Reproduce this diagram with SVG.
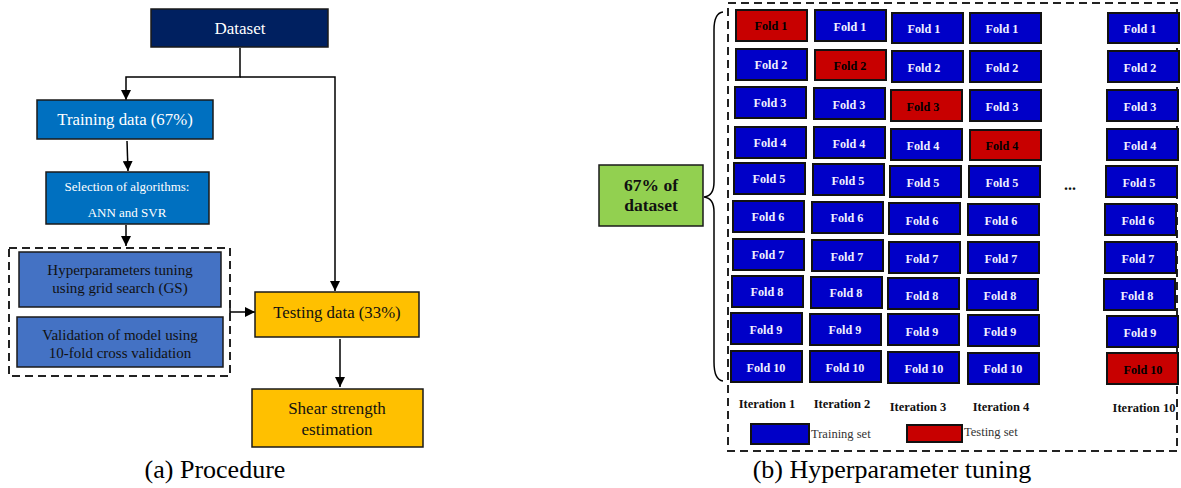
<svg xmlns="http://www.w3.org/2000/svg" width="1181" height="488" viewBox="0 0 1181 488" font-family="'Liberation Serif', 'DejaVu Serif', serif">
<defs>
<marker id="ah" viewBox="0 0 10 10" refX="10" refY="5" markerWidth="10" markerHeight="10" markerUnits="userSpaceOnUse" orient="auto">
<path d="M0,0 L10,5 L0,10 z" fill="#000"/>
</marker>
<style>
text{font-family:'Liberation Serif','DejaVu Serif',serif;}
.box{stroke:#1a1a1a;stroke-width:1.5;}
.wt{fill:#fff;text-anchor:middle;}
.dk{fill:#111;text-anchor:middle;}
.conn{stroke:#000;stroke-width:1.5;fill:none;}
.dash{stroke:#222;stroke-width:2;fill:none;stroke-dasharray:8,5;}
.fb{fill:#0000C8;stroke:#111;stroke-width:2;}
.fr{fill:#C80000;stroke:#111;stroke-width:2;}
.ft{font-size:12.2px;font-weight:bold;fill:#f0f0ff;text-anchor:middle;}
.ftr{font-size:12.2px;font-weight:bold;fill:#000;text-anchor:middle;}
.it{font-size:12.5px;font-weight:bold;fill:#111;text-anchor:middle;}
.cap{font-size:26px;fill:#000;text-anchor:middle;}
</style>
</defs>
<rect width="1181" height="488" fill="#fff"/>

<!-- connectors -->
<g id="connectors">
<polyline class="conn" points="240,48 240,77 126,77 126,100" marker-end="url(#ah)"/>
<polyline class="conn" points="240,77 335,77 335,291" marker-end="url(#ah)"/>
<line class="conn" x1="127" y1="141" x2="128" y2="171" marker-end="url(#ah)"/>
<line class="conn" x1="126" y1="225" x2="126" y2="246" marker-end="url(#ah)"/>
<line class="conn" x1="230" y1="312" x2="255" y2="312" marker-end="url(#ah)"/>
<line class="conn" x1="230" y1="306" x2="230" y2="318"/>
<line class="conn" x1="340" y1="339" x2="340" y2="387" marker-end="url(#ah)"/>
<path class="conn" d="M723,12 Q714,13 714,30 L714,182 Q714,196 704,197 Q714,198 714,212 L714,362 Q714,380 723,381"/>
</g>

<!-- left panel nodes -->
<g id="dataset">
<rect class="box" x="151" y="9" width="177" height="38" fill="#002060"/>
<text class="wt" x="240" y="34" font-size="17">Dataset</text>
</g>
<g id="training">
<rect class="box" x="37" y="100" width="176" height="39" fill="#0070C0"/>
<text class="wt" x="125" y="125" font-size="16.8">Training data (67%)</text>
</g>
<g id="selection">
<rect class="box" x="46" y="172" width="163" height="52" fill="#0070C0"/>
<text class="wt" x="127" y="191" font-size="13">Selection of algorithms:</text>
<text class="wt" x="127" y="217" font-size="13">ANN and SVR</text>
</g>
<g id="tuning-group">
<rect class="dash" x="9" y="248" width="221" height="128"/>
</g>
<g id="hyper">
<rect class="box" x="19" y="252" width="202" height="55" fill="#4472C4"/>
<text class="dk" x="120" y="275" font-size="15" fill="#1a1a3a">Hyperparameters tuning</text>
<text class="dk" x="120" y="293" font-size="15" fill="#1a1a3a">using grid search (GS)</text>
</g>
<g id="validation">
<rect class="box" x="17" y="317" width="206" height="50" fill="#4472C4"/>
<text class="dk" x="120" y="340" font-size="15" fill="#1a1a3a">Validation of model using</text>
<text class="dk" x="120" y="358" font-size="15" fill="#1a1a3a">10-fold cross validation</text>
</g>
<g id="testing">
<rect class="box" x="255" y="292" width="164" height="45" fill="#FFC000"/>
<text class="dk" x="337" y="318" font-size="16.8">Testing data (33%)</text>
</g>
<g id="shear">
<rect class="box" x="252" y="389" width="171" height="58" fill="#FFC000"/>
<text class="dk" x="337" y="414" font-size="17">Shear strength</text>
<text class="dk" x="337" y="435" font-size="17">estimation</text>
</g>
<text class="cap" x="215" y="478">(a) Procedure</text>

<!-- right panel -->
<g id="cv-frame">
<rect class="dash" x="728" y="3" width="449" height="448"/>
</g>
<g id="pct">
<rect class="box" x="599" y="165" width="104" height="61" fill="#92D050"/>
<text x="651" y="191" font-size="17.5" font-weight="bold" fill="#111" text-anchor="middle">67% of</text>
<text x="651" y="211" font-size="17.5" font-weight="bold" fill="#111" text-anchor="middle">dataset</text>
</g>

<g id="iter1">
<rect class="fr" x="736" y="10" width="71" height="31"/><text class="ftr" x="771" y="30">Fold 1</text>
<rect class="fb" x="736" y="49" width="71" height="31"/><text class="ft" x="771" y="69">Fold 2</text>
<rect class="fb" x="735" y="87" width="71" height="31"/><text class="ft" x="770" y="107">Fold 3</text>
<rect class="fb" x="735" y="127" width="71" height="31"/><text class="ft" x="770" y="147">Fold 4</text>
<rect class="fb" x="734" y="163" width="71" height="31"/><text class="ft" x="769" y="183">Fold 5</text>
<rect class="fb" x="733" y="201" width="71" height="31"/><text class="ft" x="768" y="221">Fold 6</text>
<rect class="fb" x="733" y="239" width="71" height="31"/><text class="ft" x="768" y="259">Fold 7</text>
<rect class="fb" x="732" y="276" width="71" height="31"/><text class="ft" x="767" y="296">Fold 8</text>
<rect class="fb" x="731" y="313" width="71" height="31"/><text class="ft" x="766" y="334">Fold 9</text>
<rect class="fb" x="731" y="351" width="71" height="31"/><text class="ft" x="766" y="372">Fold 10</text>
<text class="it" x="767" y="408">Iteration 1</text>
</g>
<g id="iter2">
<rect class="fb" x="815" y="10" width="71" height="31"/><text class="ft" x="850" y="31">Fold 1</text>
<rect class="fr" x="815" y="50" width="71" height="30"/><text class="ftr" x="850" y="70">Fold 2</text>
<rect class="fb" x="814" y="88" width="71" height="31"/><text class="ft" x="849" y="109">Fold 3</text>
<rect class="fb" x="814" y="127" width="71" height="31"/><text class="ft" x="849" y="148">Fold 4</text>
<rect class="fb" x="813" y="164" width="71" height="31"/><text class="ft" x="848" y="185">Fold 5</text>
<rect class="fb" x="812" y="202" width="71" height="31"/><text class="ft" x="847" y="222">Fold 6</text>
<rect class="fb" x="812" y="240" width="71" height="31"/><text class="ft" x="847" y="261">Fold 7</text>
<rect class="fb" x="811" y="277" width="71" height="31"/><text class="ft" x="846" y="297">Fold 8</text>
<rect class="fb" x="810" y="314" width="71" height="31"/><text class="ft" x="845" y="334">Fold 9</text>
<rect class="fb" x="810" y="351" width="71" height="31"/><text class="ft" x="845" y="372">Fold 10</text>
<text class="it" x="842" y="408">Iteration 2</text>
</g>
<g id="iter3">
<rect class="fb" x="892" y="13" width="71" height="30"/><text class="ft" x="924" y="33">Fold 1</text>
<rect class="fb" x="892" y="51" width="71" height="31"/><text class="ft" x="924" y="72">Fold 2</text>
<rect class="fr" x="891" y="90" width="71" height="31"/><text class="ftr" x="923" y="111">Fold 3</text>
<rect class="fb" x="891" y="129" width="71" height="31"/><text class="ft" x="923" y="150">Fold 4</text>
<rect class="fb" x="890" y="166" width="71" height="31"/><text class="ft" x="923" y="187">Fold 5</text>
<rect class="fb" x="889" y="203" width="71" height="31"/><text class="ft" x="922" y="225">Fold 6</text>
<rect class="fb" x="889" y="242" width="71" height="31"/><text class="ft" x="922" y="263">Fold 7</text>
<rect class="fb" x="888" y="278" width="71" height="31"/><text class="ft" x="922" y="300">Fold 8</text>
<rect class="fb" x="888" y="314" width="71" height="31"/><text class="ft" x="922" y="336">Fold 9</text>
<rect class="fb" x="888" y="352" width="71" height="31"/><text class="ft" x="924" y="373">Fold 10</text>
<text class="it" x="918" y="411">Iteration 3</text>
</g>
<g id="iter4">
<rect class="fb" x="970" y="13" width="71" height="30"/><text class="ft" x="1002" y="33">Fold 1</text>
<rect class="fb" x="970" y="51" width="71" height="31"/><text class="ft" x="1002" y="72">Fold 2</text>
<rect class="fb" x="970" y="90" width="71" height="31"/><text class="ft" x="1002" y="111">Fold 3</text>
<rect class="fr" x="970" y="130" width="71" height="30"/><text class="ftr" x="1002" y="150">Fold 4</text>
<rect class="fb" x="969" y="166" width="71" height="31"/><text class="ft" x="1002" y="187">Fold 5</text>
<rect class="fb" x="968" y="204" width="71" height="31"/><text class="ft" x="1001" y="225">Fold 6</text>
<rect class="fb" x="968" y="242" width="71" height="31"/><text class="ft" x="1001" y="263">Fold 7</text>
<rect class="fb" x="967" y="279" width="71" height="31"/><text class="ft" x="1000" y="300">Fold 8</text>
<rect class="fb" x="968" y="315" width="71" height="31"/><text class="ft" x="1000" y="336">Fold 9</text>
<rect class="fb" x="968" y="353" width="71" height="31"/><text class="ft" x="1003" y="373">Fold 10</text>
<text class="it" x="1001" y="411">Iteration 4</text>
</g>
<text x="1070" y="190" font-size="16" font-weight="bold" fill="#111" text-anchor="middle">...</text>
<g id="iter10">
<rect class="fb" x="1108" y="13" width="71" height="30"/><text class="ft" x="1140" y="33">Fold 1</text>
<rect class="fb" x="1108" y="51" width="71" height="31"/><text class="ft" x="1140" y="72">Fold 2</text>
<rect class="fb" x="1107" y="90" width="71" height="31"/><text class="ft" x="1140" y="111">Fold 3</text>
<rect class="fb" x="1107" y="129" width="71" height="31"/><text class="ft" x="1140" y="150">Fold 4</text>
<rect class="fb" x="1106" y="166" width="71" height="31"/><text class="ft" x="1139" y="187">Fold 5</text>
<rect class="fb" x="1105" y="204" width="71" height="31"/><text class="ft" x="1138" y="225">Fold 6</text>
<rect class="fb" x="1105" y="242" width="71" height="31"/><text class="ft" x="1138" y="263">Fold 7</text>
<rect class="fb" x="1104" y="279" width="71" height="31"/><text class="ft" x="1137" y="300">Fold 8</text>
<rect class="fb" x="1107" y="316" width="71" height="31"/><text class="ft" x="1140" y="337">Fold 9</text>
<rect class="fr" x="1107" y="353" width="71" height="31"/><text class="ftr" x="1143" y="374">Fold 10</text>
<text class="it" x="1144" y="412">Iteration 10</text>
</g>
<g id="legend">
<rect class="fb" x="751" y="424" width="58" height="20"/>
<text x="811" y="438" font-size="12.5" fill="#333">Training set</text>
<rect class="fr" x="907" y="425" width="55" height="17"/>
<text x="964" y="436" font-size="12.5" fill="#333">Testing set</text>
</g>
<text class="cap" x="892" y="478">(b) Hyperparameter tuning</text>
</svg>
